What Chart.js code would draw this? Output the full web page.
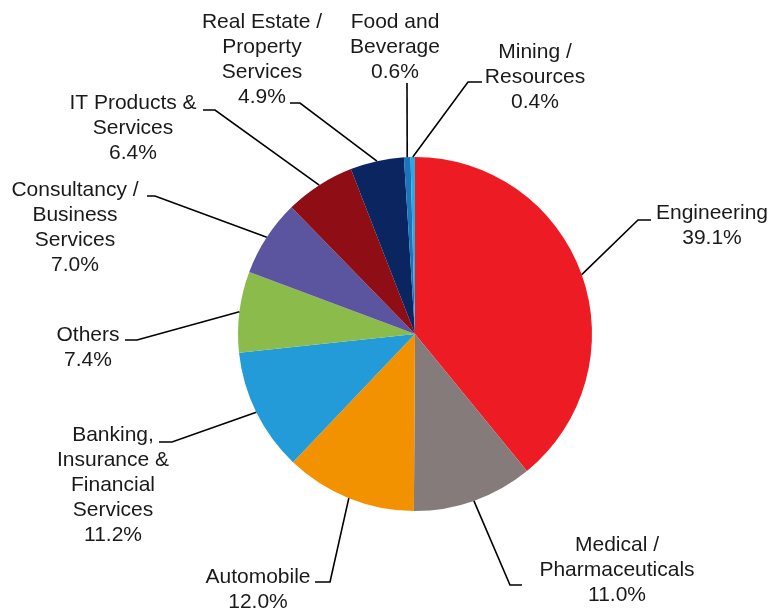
<!DOCTYPE html>
<html>
<head>
<meta charset="utf-8">
<script src="https://cdn.jsdelivr.net/npm/chart.js@4.4.1/dist/chart.umd.min.js"></script>
<style>
  html, body { margin: 0; padding: 0; background: #fff; }
  #wrap { width: 771px; height: 609px; }
</style>
</head>
<body>
<div id="wrap"><canvas id="sectorChart"></canvas></div>
<script>
// Share by sector, clockwise from 12 o'clock
const sectors = [
    'Engineering',
    'Medical /\nPharmaceuticals',
    'Automobile',
    'Banking,\nInsurance &\nFinancial\nServices',
    'Others',
    'Consultancy /\nBusiness\nServices',
    'IT Products &\nServices',
    'Real Estate /\nProperty\nServices',
    'Food and\nBeverage',
    'Mining /\nResources'
];
const shares = [39.1, 11.0, 12.0, 11.2, 7.4, 7.0, 6.4, 4.9, 0.6, 0.4];
const sliceColors = [
    '#ED1C24', '#857B7A', '#F39200', '#229BD8', '#8BBB4B',
    '#5B55A0', '#8F0D14', '#0B2560', '#1C75BC', '#29ABE2'
];

// Where each callout sits: text centre x, first line y, elbow and end of the leader
const calloutLayout = [
    { tx: 712, ty: 213, elbow: [638, 220], end: [651, 220] },
    { tx: 617, ty: 545, elbow: [510, 585], end: [522, 585] },
    { tx: 258, ty: 577, elbow: [330, 582], end: [315, 582] },
    { tx: 113, ty: 435, elbow: [172, 442], end: [159, 442] },
    { tx: 88,  ty: 335, elbow: [137, 340], end: [125, 340] },
    { tx: 75,  ty: 190, elbow: [155, 196], end: [147, 196] },
    { tx: 133, ty: 103, elbow: [215, 110], end: [203, 110] },
    { tx: 262, ty: 22,  elbow: [300, 103], end: [290, 103] },
    { tx: 395, ty: 22,  elbow: null,       end: [407, 83] },
    { tx: 535, ty: 52,  elbow: [468, 82],  end: [482, 82] }
];

const LINE_HEIGHT = 25;

const calloutPlugin = {
    id: 'callouts',
    afterDatasetsDraw(chart) {
        const ctx = chart.ctx;
        const arcs = chart.getDatasetMeta(0).data;
        ctx.save();
        ctx.strokeStyle = '#000';
        ctx.lineWidth = 1.6;
        ctx.font = '21px "Liberation Sans", Arial, sans-serif';
        ctx.fillStyle = '#1a1a1a';
        ctx.textAlign = 'center';
        ctx.textBaseline = 'middle';

        arcs.forEach((arc, i) => {
            const lay = calloutLayout[i];
            const mid = (arc.startAngle + arc.endAngle) / 2;
            const sx = arc.x + Math.cos(mid) * arc.outerRadius;
            const sy = arc.y + Math.sin(mid) * arc.outerRadius;

            // leader line from the slice edge out to the label
            ctx.beginPath();
            ctx.moveTo(sx, sy);
            if (lay.elbow) ctx.lineTo(lay.elbow[0], lay.elbow[1]);
            ctx.lineTo(lay.end[0], lay.end[1]);
            ctx.stroke();

            const lines = sectors[i].split('\n');
            lines.push(shares[i].toFixed(1) + '%');
            lines.forEach((txt, k) => {
                ctx.fillText(txt, lay.tx, lay.ty + k * LINE_HEIGHT);
            });
        });
        ctx.restore();
    }
};

new Chart(document.getElementById('sectorChart'), {
    type: 'pie',
    data: {
        labels: sectors,
        datasets: [{
            data: shares,
            backgroundColor: sliceColors,
            borderWidth: 0
        }]
    },
    options: {
        responsive: true,
        maintainAspectRatio: false,
        animation: false,
        layout: { padding: { left: 238, right: 179, top: 157, bottom: 98 } },
        plugins: {
            legend: { display: false },
            tooltip: { enabled: false }
        }
    },
    plugins: [calloutPlugin]
});
</script>
</body>
</html>
